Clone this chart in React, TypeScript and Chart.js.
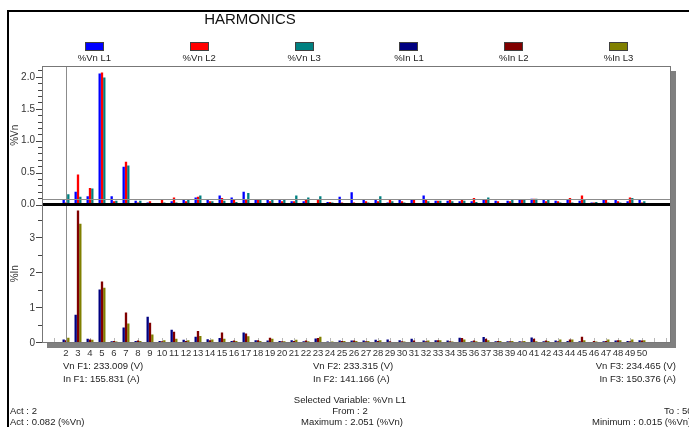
import React, { useEffect, useRef } from 'react';
import { Chart, registerables } from 'chart.js';

Chart.register(...registerables);

const FONT = "'Liberation Sans', Arial, sans-serif";

// Harmonic orders shown on the x axis
const harmonics = [2, 3, 4, 5, 6, 7, 8, 9, 10, 11, 12, 13, 14, 15, 16, 17, 18, 19, 20, 21, 22, 23, 24, 25, 26, 27, 28, 29, 30, 31, 32, 33, 34, 35, 36, 37, 38, 39, 40, 41, 42, 43, 44, 45, 46, 47, 48, 49, 50];

// %Vn per phase (top panel)
const vnL1 = [0.082, 0.20, 0.13, 2.051, 0.13, 0.59, 0.06, 0.03, 0.015, 0.05, 0.08, 0.11, 0.08, 0.14, 0.11, 0.20, 0.08, 0.08, 0.08, 0.05, 0.05, 0.02, 0.04, 0.12, 0.19, 0.07, 0.08, 0.03, 0.08, 0.08, 0.14, 0.06, 0.06, 0.05, 0.05, 0.08, 0.06, 0.06, 0.08, 0.09, 0.07, 0.06, 0.07, 0.06, 0.03, 0.07, 0.07, 0.05, 0.07];
const vnL2 = [0.03, 0.47, 0.26, 2.07, 0.05, 0.67, 0.03, 0.05, 0.07, 0.11, 0.05, 0.12, 0.05, 0.10, 0.07, 0.08, 0.08, 0.05, 0.05, 0.05, 0.08, 0.08, 0.04, 0.03, 0.03, 0.05, 0.05, 0.08, 0.05, 0.07, 0.08, 0.06, 0.07, 0.07, 0.10, 0.08, 0.05, 0.05, 0.07, 0.09, 0.05, 0.05, 0.10, 0.14, 0.03, 0.07, 0.05, 0.11, 0.03];
const vnL3 = [0.16, 0.12, 0.25, 1.99, 0.06, 0.61, 0.06, 0.02, 0.03, 0.03, 0.08, 0.14, 0.05, 0.06, 0.04, 0.18, 0.07, 0.08, 0.08, 0.14, 0.11, 0.13, 0.03, 0.02, 0.02, 0.03, 0.13, 0.05, 0.03, 0.02, 0.05, 0.06, 0.05, 0.06, 0.04, 0.11, 0.02, 0.08, 0.08, 0.09, 0.07, 0.03, 0.03, 0.08, 0.04, 0.03, 0.03, 0.10, 0.05];

// %In per phase (bottom panel)
const inL1 = [0.10, 0.81, 0.12, 1.53, 0.05, 0.44, 0.06, 0.75, 0.06, 0.38, 0.09, 0.18, 0.11, 0.14, 0.06, 0.30, 0.08, 0.07, 0.06, 0.08, 0.05, 0.13, 0.04, 0.07, 0.07, 0.07, 0.09, 0.10, 0.08, 0.12, 0.07, 0.08, 0.07, 0.15, 0.05, 0.17, 0.05, 0.05, 0.05, 0.16, 0.05, 0.07, 0.06, 0.05, 0.03, 0.05, 0.07, 0.06, 0.08];
const inL2 = [0.08, 3.79, 0.10, 1.76, 0.06, 0.87, 0.07, 0.58, 0.05, 0.32, 0.06, 0.34, 0.08, 0.30, 0.07, 0.27, 0.08, 0.15, 0.05, 0.06, 0.07, 0.14, 0.03, 0.06, 0.07, 0.05, 0.06, 0.05, 0.05, 0.07, 0.05, 0.08, 0.05, 0.14, 0.07, 0.12, 0.06, 0.05, 0.04, 0.12, 0.07, 0.05, 0.10, 0.18, 0.06, 0.06, 0.08, 0.05, 0.07];
const inL3 = [0.15, 3.41, 0.09, 1.58, 0.04, 0.56, 0.06, 0.24, 0.08, 0.12, 0.08, 0.20, 0.10, 0.12, 0.06, 0.19, 0.06, 0.12, 0.05, 0.09, 0.05, 0.18, 0.04, 0.06, 0.06, 0.06, 0.08, 0.03, 0.04, 0.03, 0.07, 0.08, 0.04, 0.10, 0.05, 0.08, 0.06, 0.06, 0.06, 0.05, 0.06, 0.10, 0.10, 0.08, 0.04, 0.10, 0.08, 0.10, 0.08];

const seriesLabels = ['%Vn L1', '%Vn L2', '%Vn L3', '%In L1', '%In L2', '%In L3'];
const seriesColors = ['#0000FF', '#FF0000', '#008080', '#000080', '#800000', '#808000'];
const seriesStacks = ['L1', 'L2', 'L3', 'L1', 'L2', 'L3'];

// Axis ticks
const vnTicks = [0, 0.5, 1, 1.5, 2];
const inTicks = [0, 1, 2, 3];
const vnMax = 2.17;
const inMax = 3.96;
const xMin = 0;
const xMax = 52.42;
const markerFirst = 1;
const markerLast = 52;

// Cursor / footer info
const selectedHarmonic = 2;
const selectedValue = 0.082;
const fundamentalV = ['233.009', '233.315', '234.465'];
const fundamentalI = ['155.831', '141.166', '150.376'];

const decor = {
  id: 'decor',
  beforeDraw(chart: any) {
    const { ctx, chartArea: a } = chart;
    ctx.save();
    ctx.fillStyle = '#808080';
    ctx.fillRect(a.left + 5, a.top + 5, a.right - a.left, a.bottom - a.top);
    ctx.fillStyle = '#ffffff';
    ctx.fillRect(a.left, a.top, a.right - a.left, a.bottom - a.top);
    ctx.restore();
  },
  beforeDatasetsDraw(chart: any) {
    const { ctx, scales } = chart;
    const x = scales.x;
    const yI = scales.yI;
    ctx.save();
    ctx.fillStyle = '#b8b8b8';
    const y0 = Math.round(yI.getPixelForValue(0));
    for (let k = markerFirst; k <= markerLast; k++) {
      const px = Math.round(x.getPixelForValue(k));
      ctx.fillRect(px, y0 - 5, 1, 5);
    }
    ctx.restore();
  },
  afterDatasetsDraw(chart: any) {
    const { ctx, chartArea: a, scales } = chart;
    const x = scales.x;
    const yV = scales.yV;
    const yI = scales.yI;
    ctx.save();
    // cursor lines
    ctx.fillStyle = '#8c8c8c';
    const cy = Math.round(yV.getPixelForValue(selectedValue));
    ctx.fillRect(a.left, cy, a.right - a.left, 1);
    const cx = Math.round(x.getPixelForValue(selectedHarmonic));
    ctx.fillRect(cx, a.top, 1, a.bottom - a.top);
    // zero line of top panel
    ctx.fillStyle = '#000000';
    const z = Math.round(yV.getPixelForValue(0));
    ctx.fillRect(a.left, z - 2, a.right - a.left, 3);
    // border
    ctx.fillStyle = '#777777';
    ctx.fillRect(a.left, a.top, a.right - a.left, 1);
    ctx.fillRect(a.left, a.bottom - 1, a.right - a.left, 1);
    ctx.fillRect(a.left, a.top, 1, a.bottom - a.top);
    ctx.fillRect(a.right - 1, a.top, 1, a.bottom - a.top);
    // tick marks (major + minor)
    ctx.fillStyle = '#444444';
    for (let i = 0; i * 0.1 <= vnMax + 1e-9; i++) {
      const len = i % 5 === 0 ? 6 : 4;
      const py = Math.round(yV.getPixelForValue(i * 0.1));
      ctx.fillRect(a.left - len, py, len, 1);
    }
    for (let i = 0; i * 0.5 <= inMax + 1e-9; i++) {
      const len = i % 2 === 0 ? 6 : 4;
      const py = Math.round(yI.getPixelForValue(i * 0.5));
      ctx.fillRect(a.left - len, py - 1, len, 1);
    }
    ctx.restore();
  },
};

export default function App() {
  const ref = useRef<HTMLCanvasElement>(null);

  useEffect(() => {
    const canvas = ref.current;
    if (!canvas) return;
    const series = [vnL1, vnL2, vnL3, inL1, inL2, inL3];
    const datasets = series.map((vals, i) => ({
      label: seriesLabels[i],
      data: harmonics.map((h, j) => ({ x: h, y: vals[j] })),
      backgroundColor: seriesColors[i],
      borderWidth: 0,
      stack: seriesStacks[i],
      yAxisID: i < 3 ? 'yV' : 'yI',
      categoryPercentage: 0.58,
      barPercentage: 1,
    }));
    const tickFont = { family: FONT, size: 9.5 };
    const yFont = { family: FONT, size: 10 };
    const chart = new Chart(canvas, {
      type: 'bar',
      data: { datasets } as any,
      options: {
        animation: false,
        responsive: false,
        events: [],
        layout: { padding: { top: 66, right: 18, bottom: 68, left: 0 } },
        plugins: {
          legend: { display: false },
          title: { display: false },
          tooltip: { enabled: false },
        },
        scales: {
          x: {
            type: 'linear',
            min: xMin,
            max: xMax,
            offset: false,
            grid: { display: false, drawTicks: false, offset: false },
            border: { display: false },
            afterBuildTicks: (ax: any) => {
              ax.ticks = harmonics.map((v) => ({ value: v }));
            },
            afterFit: (ax: any) => {
              ax.height = 16;
            },
            ticks: {
              autoSkip: false,
              maxRotation: 0,
              minRotation: 0,
              padding: 5,
              font: tickFont,
              color: '#333333',
              callback: (v: any) => String(v),
            },
          },
          yI: {
            type: 'linear',
            position: 'left',
            stack: 'panels',
            stackWeight: 1,
            weight: 0,
            stacked: false,
            min: 0,
            max: inMax,
            grid: { display: false, drawTicks: false },
            border: { display: false },
            afterBuildTicks: (ax: any) => {
              ax.ticks = inTicks.map((v) => ({ value: v }));
            },
            afterFit: (ax: any) => {
              ax.width = 42;
            },
            ticks: { padding: 7, font: yFont, color: '#333333', callback: (v: any) => String(v) },
            title: { display: true, text: '%In', padding: { top: 9, bottom: 0 }, font: yFont, color: '#333333' },
          },
          yV: {
            type: 'linear',
            position: 'left',
            stack: 'panels',
            stackWeight: 1,
            weight: 1,
            stacked: false,
            min: 0,
            max: vnMax,
            grid: { display: false, drawTicks: false },
            border: { display: false },
            afterBuildTicks: (ax: any) => {
              ax.ticks = vnTicks.map((v) => ({ value: v }));
            },
            afterFit: (ax: any) => {
              ax.width = 42;
            },
            ticks: { padding: 7, font: yFont, color: '#333333', callback: (v: any) => Number(v).toFixed(1) },
            title: { display: true, text: '%Vn', padding: { top: 9, bottom: 0 }, font: yFont, color: '#333333' },
          },
        },
      } as any,
      plugins: [decor],
    });
    return () => chart.destroy();
  }, []);

  const small: React.CSSProperties = {
    position: 'absolute',
    fontSize: '9.5px',
    lineHeight: '12px',
    color: '#222',
    whiteSpace: 'nowrap',
  };
  const cellW = (671 - 42) / seriesLabels.length;

  return (
    <div
      style={{
        position: 'fixed',
        left: 0,
        top: 0,
        width: 689,
        height: 427,
        overflow: 'hidden',
        background: '#fff',
        fontFamily: FONT,
      }}
    >
      <canvas ref={ref} width={689} height={427} style={{ position: 'absolute', left: 0, top: 0, width: 689, height: 427 }} />
      <div style={{ position: 'absolute', left: 7, top: 10, width: 700, height: 430, borderLeft: '2px solid #000', borderTop: '2px solid #000' }} />
      <div style={{ position: 'absolute', left: 150, top: 10, width: 200, textAlign: 'center', fontSize: '15px', lineHeight: '18px', color: '#111' }}>
        HARMONICS
      </div>
      {seriesLabels.map((lab, i) => (
        <div key={lab} style={{ position: 'absolute', left: 42 + i * cellW, top: 42, width: cellW, textAlign: 'center' }}>
          <div style={{ margin: '0 auto', width: 17, height: 7, background: seriesColors[i], border: '1px solid #404040' }} />
          <div style={{ fontSize: '9.5px', lineHeight: '12px', marginTop: 1, color: '#222' }}>{lab}</div>
        </div>
      ))}
      <div style={{ ...small, left: 63, top: 360 }}>{`Vn F1: ${fundamentalV[0]} (V)`}</div>
      <div style={{ ...small, left: 63, top: 373 }}>{`In F1: ${fundamentalI[0]} (A)`}</div>
      <div style={{ ...small, left: 313, top: 360 }}>{`Vn F2: ${fundamentalV[1]} (V)`}</div>
      <div style={{ ...small, left: 313, top: 373 }}>{`In F2: ${fundamentalI[1]} (A)`}</div>
      <div style={{ ...small, right: 13, top: 360, textAlign: 'right' }}>{`Vn F3: ${fundamentalV[2]} (V)`}</div>
      <div style={{ ...small, right: 13, top: 373, textAlign: 'right' }}>{`In F3: ${fundamentalI[2]} (A)`}</div>
      <div style={{ ...small, left: 250, width: 200, textAlign: 'center', top: 394 }}>Selected Variable: %Vn L1</div>
      <div style={{ ...small, left: 10, top: 405 }}>Act : 2</div>
      <div style={{ ...small, left: 250, width: 200, textAlign: 'center', top: 405 }}>From : 2</div>
      <div style={{ ...small, left: 664, top: 405 }}>To : 50</div>
      <div style={{ ...small, left: 10, top: 416 }}>{`Act : ${selectedValue.toFixed(3)} (%Vn)`}</div>
      <div style={{ ...small, left: 252, width: 200, textAlign: 'center', top: 416 }}>Maximum : 2.051 (%Vn)</div>
      <div style={{ ...small, left: 592, top: 416 }}>Minimum : 0.015 (%Vn)</div>
    </div>
  );
}
